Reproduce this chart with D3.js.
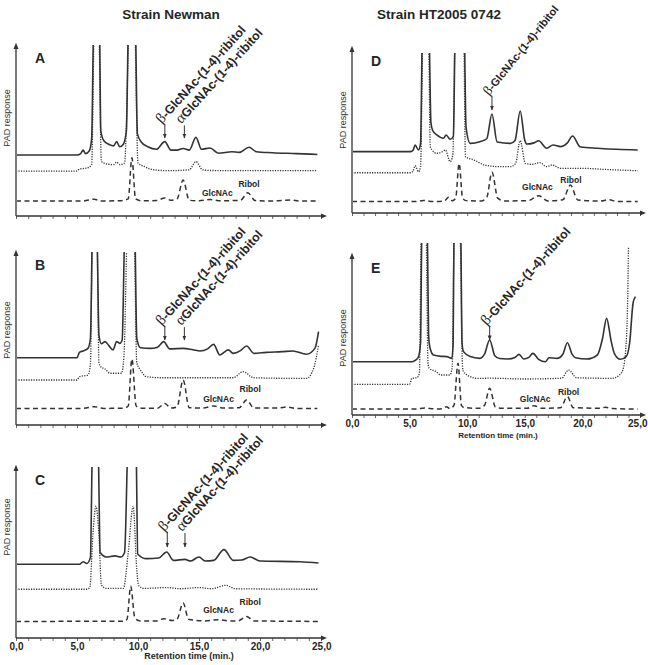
<!DOCTYPE html>
<head>
  <meta charset="utf-8">
  <script src="https://d3js.org/d3.v7.min.js"></script>
  <style>
    body { margin: 0; background: #fff; }
    text { font-family: Arial, "Liberation Sans", sans-serif; fill: #262626; }
  </style>
</head>

<body>
  <div id="chart"></div>
</body>

<script>

// retention time (min.) tick values
var majorTicks = [0, 5, 10, 15, 20, 25];
var minorTicks = [0,1,2,3,4,5,6,7,8,9,10,11,12,13,14,15,16,17,18,19,20,21,22,23,24,25];

// PAD response, relative units (0 = x axis, 100 = top of y axis), [time, response]
// Strain Newman, panel A
var aSolid = [[0,35.7],[5.0,35.7],[5.3,36.5],[5.5,38.5],[5.7,36.5],[6.0,38],[6.2,45],[6.35,110],[6.6,160],[6.85,110],[6.95,50],[7.2,44],[7.6,42],[8.0,41],[8.25,43.5],[8.5,40.5],[8.8,42],[9.05,50],[9.2,110],[9.5,160],[9.8,110],[9.95,48],[10.3,43],[10.8,40.5],[11.5,39],[12.2,43.5],[12.7,38.5],[13.2,38.5],[13.7,39.5],[14.2,38.5],[14.75,46],[15.2,39],[15.9,39.8],[16.6,36.7],[17.7,37.6],[18.3,37.2],[19.1,40.2],[19.7,37.6],[21,37],[23,36.5],[24.7,36]];
var aDotted = [[0,26.3],[5.0,26.3],[5.2,27.5],[5.8,28],[6.2,30],[6.4,110],[6.6,150],[6.8,110],[7.0,32],[7.4,30.5],[8.0,30],[8.25,31.5],[8.5,30],[8.9,31],[9.25,110],[9.5,150],[9.75,110],[10.0,31],[10.5,29],[11.3,27],[12.5,26.5],[14.2,27],[14.75,31.8],[15.3,27],[16,26.6],[24.7,26.5]];
var aDashed = [[0,8.8],[5.5,8.8],[6.4,9.8],[7.0,8.8],[8.5,8.9],[9.2,10],[9.5,34],[9.8,10],[10.3,8.9],[11.5,9],[12.2,10.5],[12.7,9.2],[13.2,10],[13.7,21],[14.2,9.2],[15,8.9],[15.9,9.6],[16.8,8.9],[18.4,9.2],[19.0,13.6],[19.6,9],[21,8.8],[22.5,9.3],[23.3,8.8],[24.7,8.8]];

// Strain Newman, panel B
var bSolid = [[0,38.9],[5.0,38.9],[5.2,42],[5.5,42.8],[5.9,44.3],[6.1,50],[6.25,110],[6.45,160],[6.65,110],[6.8,52],[7.0,47],[7.3,48.2],[7.6,46],[7.95,43.4],[8.25,48.2],[8.5,47.2],[8.7,49],[8.9,110],[9.35,160],[9.75,110],[9.9,50],[10.2,44.7],[11.0,44.3],[11.6,45],[12.1,48.2],[12.6,44],[13.7,44.3],[14.5,43.5],[15.1,42.8],[15.7,44],[16.2,46.6],[16.7,40.5],[17.4,43.4],[17.8,41.4],[18.4,43],[18.9,45.7],[19.5,41.4],[20.5,42],[21.8,42.4],[22.7,42.8],[23.8,40.9],[24.5,44.3],[24.8,54]];
var bDotted = [[0,26],[5.0,26],[5.2,27.9],[5.9,28.9],[6.1,35],[6.25,110],[6.45,150],[6.65,110],[6.8,36],[6.95,33.7],[7.3,32.4],[7.7,29.9],[8.65,29.9],[8.85,40],[9.1,110],[9.4,150],[9.7,110],[9.9,36],[10.2,31.8],[10.7,27.9],[12,27.3],[17.8,27.3],[18.6,30.8],[19.5,27.3],[23.8,26.9],[24.4,32.8],[24.8,46.2]];
var bDashed = [[0,9.6],[5.5,9.6],[6.4,10.6],[7.2,9.6],[8.8,9.7],[9.2,11],[9.5,38.2],[9.85,11],[10.3,9.7],[11.6,9.7],[12.2,12.5],[12.7,9.8],[13.2,10.5],[13.7,26],[14.2,10],[15.3,9.8],[16.2,11],[17,9.8],[18.3,10],[18.9,14.5],[19.5,9.8],[21.5,9.8],[22.2,10.4],[23,9.6],[24.7,9.6]];

// Strain Newman, panel C
var cSolid = [[0,43.1],[5.2,43.1],[5.5,44.6],[5.8,43.6],[6.1,47],[6.25,110],[6.5,160],[6.75,110],[6.9,50],[7.4,47.4],[8.1,48],[8.6,47.4],[8.9,50],[9.15,110],[9.5,160],[9.85,110],[9.98,49],[10.7,46.4],[11.7,46.8],[12.35,50.3],[12.9,45.4],[13.85,46],[14.3,45],[15.0,47.4],[15.5,45],[16.2,45.4],[17.05,51.7],[17.8,45.4],[18.5,45.6],[19.2,47.4],[20.0,45],[23.3,44.6],[24.8,43.9]];
var cDotted = [[0,28.5],[5.8,28.5],[6.05,29.5],[6.3,60],[6.55,77],[6.8,60],[7.0,31],[7.4,29],[8.8,29],[9.2,50],[9.6,77],[9.9,40],[10.05,30.8],[10.5,29],[12.35,29.5],[13.5,28.8],[15.0,29.5],[16.0,28.8],[17.2,30.8],[18.0,28.8],[24.8,28.5]];
var cDashed = [[0,9.7],[8.8,9.8],[9.1,11],[9.4,30.2],[9.75,11.5],[10.2,10],[11.5,10],[12.1,11.3],[12.8,10.2],[13.2,11],[13.7,20.5],[14.15,11],[15.5,10],[16.5,10.7],[17.5,10],[18.2,10],[18.9,12.6],[19.5,10],[24.8,9.7]];

// Strain HT2005 0742, panel D
var dSolid = [[0,37.2],[5.1,37.2],[5.3,38],[5.48,41.2],[5.77,38.2],[5.95,42],[6.1,110],[6.4,160],[6.7,110],[6.85,55],[7.0,50],[7.36,47.3],[7.94,45.3],[8.17,47.3],[8.52,44.7],[8.8,46.3],[8.95,110],[9.35,160],[9.75,110],[9.9,52],[10.26,42.2],[11.1,43.2],[11.7,45],[12.15,60],[12.6,43],[13.75,42.2],[14.15,44],[14.6,61.8],[15.0,44],[15.2,41.8],[15.8,42.5],[16.2,43.8],[16.9,39.2],[17.45,41.2],[18.1,40.2],[18.7,42.5],[19.15,46.7],[19.8,40.2],[21.3,39.2],[23,38.6],[24.8,38.2]];
var dDotted = [[0,24.4],[5.1,24.4],[5.3,25.5],[5.48,28.7],[5.77,25],[5.95,28],[6.15,110],[6.4,150],[6.65,110],[6.8,40],[6.95,38.2],[7.36,36.2],[7.8,37],[8.1,38.2],[8.52,31.1],[8.75,35],[8.95,110],[9.3,150],[9.7,110],[9.85,34.1],[10.6,32.1],[11.5,29.1],[12.7,28.1],[13.75,28.1],[14.2,30],[14.6,43.8],[15.05,30.1],[15.6,29.5],[16.3,30.5],[16.9,28.1],[17.36,29.1],[18.1,27.1],[19.8,27.1],[22,26.4],[24.8,25.6]];
var dDashed = [[0,6.9],[5.5,6.9],[6.2,7.6],[7.0,6.9],[8.0,7.2],[8.38,9.5],[8.7,7.5],[9.0,9],[9.3,30.1],[9.6,9],[9.9,7.5],[11.2,7.3],[11.7,9.5],[12.15,24.7],[12.65,9],[13.2,7.3],[15.3,7.5],[16.2,10.5],[17,7.3],[18.3,8],[18.96,17],[19.6,7.9],[21.5,7.2],[22.3,8],[23,7],[24.8,6.9]];

// Strain HT2005 0742, panel E
var eSolid = [[0,33.3],[5.2,33.3],[5.45,34],[5.75,36],[5.95,45],[6.05,110],[6.3,160],[6.55,110],[6.65,50],[6.78,41.7],[7.07,37.5],[7.6,36.8],[8.23,36.5],[8.67,35.4],[8.78,45],[8.85,110],[9.15,160],[9.45,110],[9.55,45],[9.68,39.6],[10.26,36.5],[11.1,35.4],[11.5,38],[11.95,46.9],[12.4,37],[12.8,35.3],[13.5,35],[14.15,36],[14.5,37.9],[14.9,35],[15.35,36],[15.7,38.5],[16.2,34.8],[16.8,33.3],[17.1,35.8],[17.8,35.4],[18.3,38],[18.7,45.2],[19.1,38],[19.4,35.8],[20.4,35],[21.3,37.5],[21.75,48],[22.1,60.4],[22.5,46],[22.8,38],[23.3,34.8],[23.8,36.5],[24.1,45],[24.4,70],[24.6,74]];
var eDotted = [[0,19.2],[5.0,19.2],[5.19,22.9],[5.62,23.3],[5.85,26],[6.0,110],[6.25,150],[6.45,110],[6.6,32],[6.7,29.2],[7.3,27.1],[7.7,25],[8.5,25],[8.7,30],[8.85,110],[9.1,150],[9.4,110],[9.6,30],[9.68,27.1],[10.26,24],[10.8,22.9],[12,23],[15,22.5],[18.2,23],[18.8,28.1],[19.5,23.3],[22.6,22.9],[23.2,25],[23.5,28],[23.8,45],[23.95,80],[24.0,105]];
var eDashed = [[0,3.75],[5.5,3.75],[6.3,4.4],[7.2,3.8],[7.9,4],[8.2,5.2],[8.5,4],[8.85,6],[9.2,32.3],[9.5,6],[9.75,4.6],[11.0,4.2],[11.5,6],[11.95,16.7],[12.45,5],[13,4.2],[15.2,4.2],[15.8,5.8],[16.5,4.2],[18.1,4.5],[18.7,11.5],[19.2,4.6],[21.5,4.2],[22.0,4.8],[22.6,4],[24.8,3.75]];

// labels
var titles = ["Strain Newman", "Strain HT2005 0742"];
var betaLabel = ["\u03b2", "-GlcNAc-(1-4)-ribitol"];
var alphaLabel = ["\u03b1", "GlcNAc-(1-4)-ribitol"];

var W = 648, H = 665;

var svg = d3.select("#chart")
  .append("svg")
    .attr("width", W)
    .attr("height", H);

var defs = svg.append("defs");
defs.append("marker")
    .attr("id", "axisArrow")
    .attr("viewBox", "0 0 10 10")
    .attr("refX", 5).attr("refY", 5)
    .attr("markerWidth", 5).attr("markerHeight", 5)
    .attr("orient", "auto")
  .append("path")
    .attr("d", "M0,1 L10,5 L0,9 Z")
    .style("fill", "#333");
defs.append("marker")
    .attr("id", "peakArrow")
    .attr("viewBox", "0 0 10 10")
    .attr("refX", 9).attr("refY", 5)
    .attr("markerWidth", 5).attr("markerHeight", 5)
    .attr("markerUnits", "userSpaceOnUse")
    .attr("orient", "auto")
  .append("path")
    .attr("d", "M0,1 L10,5 L0,9 Z")
    .style("fill", "#333");

// titles
svg.append("text").attr("x", 171).attr("y", 19).attr("text-anchor", "middle")
  .style("font-size", "13.5px").style("font-weight", "bold").text(titles[0]);
svg.append("text").attr("x", 439).attr("y", 19).attr("text-anchor", "middle")
  .style("font-size", "13.5px").style("font-weight", "bold").text(titles[1]);

var panels = [
  {id: "A", solid: aSolid, dotted: aDotted, dashed: aDashed, x0: 16, x1: 321, base: 216, top: 45, clip: 100, labels: false,
   padY: 118, arrows: [[12.2, 53, 45.6, betaLabel], [13.8, 53, 45.6, alphaLabel]], glc: [16.5, 11.7], rib: [19.1, 17]},
  {id: "B", solid: bSolid, dotted: bDotted, dashed: bDashed, x0: 16, x1: 321, base: 425, top: 252, clip: 100, labels: false,
   padY: 330, arrows: [[12.2, 56.6, 49.1, betaLabel], [13.8, 56.6, 49.1, alphaLabel]], glc: [16.6, 13.3], rib: [19.2, 19.1]},
  {id: "C", solid: cSolid, dotted: cDotted, dashed: cDashed, x0: 16, x1: 321, base: 638, top: 467, clip: 100, labels: true,
   padY: 527, arrows: [[12.4, 61.4, 53.2, betaLabel], [13.85, 61.4, 53.2, alphaLabel]], glc: [16.6, 14.6], rib: [19.2, 19.3],
   tickFont: 10, titleFont: 9, titleX: 189, titleY: 659},
  {id: "D", solid: dSolid, dotted: dDotted, dashed: dDashed, x0: 352, x1: 640, base: 213, top: 48, clip: 97, labels: false,
   padY: 120, arrows: [[12.15, 70.3, 62.4, betaLabel]], glc: [16.1, 13.9], rib: [19.0, 18.2], noteSize: 11, noteAngle: -51},
  {id: "E", solid: eSolid, dotted: eDotted, dashed: eDashed, x0: 352, x1: 640, base: 415, top: 255, clip: 107.5, labels: true,
   padY: 338, arrows: [[11.95, 55, 46.9, betaLabel]], glc: [15.9, 8.1], rib: [18.8, 12.5],
   tickFont: 10, titleFont: 8, titleX: 498, titleY: 438}
];

panels.forEach(function(p) {

  var x = d3.scaleLinear().domain([0, 25]).range([p.x0, p.x1]);
  var y = d3.scaleLinear().domain([0, 100]).range([p.base, p.top]);

  var g = svg.append("g");

  // clip the off-scale peaks
  defs.append("clipPath").attr("id", "clip" + p.id)
    .append("rect")
      .attr("x", p.x0 + 1).attr("y", y(p.clip))
      .attr("width", p.x1 - p.x0 + 6).attr("height", p.base - y(p.clip));

  var line = d3.line()
    .x(function(d) { return x(d[0]); })
    .y(function(d) { return y(d[1]); })
    .curve(d3.curveMonotoneX);

  var traces = g.append("g").attr("clip-path", "url(#clip" + p.id + ")");
  traces.append("path").datum(p.dashed)
    .attr("d", line).style("fill", "none").style("stroke", "#333")
    .style("stroke-width", 1.5).style("stroke-dasharray", "5,3.5");
  traces.append("path").datum(p.dotted)
    .attr("d", line).style("fill", "none").style("stroke", "#333")
    .style("stroke-width", 1.3).style("stroke-dasharray", "1.2,1.3");
  traces.append("path").datum(p.solid)
    .attr("d", line).style("fill", "none").style("stroke", "#333")
    .style("stroke-width", 1.6);

  // minor ticks on the time axis
  var xAxis = g.append("g")
    .attr("transform", "translate(0," + p.base + ")")
    .call(d3.axisBottom(x).tickValues(minorTicks).tickSize(3).tickFormat(""));
  xAxis.select(".domain").remove();
  xAxis.selectAll(".tick line").style("stroke", "#444").style("stroke-width", 0.8);

  if (p.labels) {
    var lab = g.append("g")
      .attr("transform", "translate(0," + p.base + ")")
      .call(d3.axisBottom(x).tickValues(majorTicks).tickSize(0).tickPadding(5)
        .tickFormat(function(d) { return d.toFixed(1).replace(".", ","); }));
    lab.select(".domain").remove();
    lab.selectAll("text")
      .style("font-family", "Arial, sans-serif")
      .style("font-size", p.tickFont + "px")
      .style("font-weight", "bold")
      .style("fill", "#262626");
    // keep the last label inside the page
    lab.selectAll("text").filter(function(d) { return d === 25; })
      .attr("text-anchor", "end").attr("dx", Math.min(10, W - 1 - x(25)));
    g.append("text")
      .attr("x", p.titleX).attr("y", p.titleY)
      .attr("text-anchor", "middle")
      .style("font-size", p.titleFont + "px").style("font-weight", "bold")
      .text("Retention time (min.)");
  }

  // axis lines with arrow heads
  g.append("line")
    .attr("x1", p.x0).attr("y1", p.base).attr("x2", p.x1 + 3).attr("y2", p.base)
    .style("stroke", "#333").style("stroke-width", 1.3)
    .attr("marker-end", "url(#axisArrow)");
  g.append("line")
    .attr("x1", p.x0).attr("y1", p.base).attr("x2", p.x0).attr("y2", p.top + 1)
    .style("stroke", "#333").style("stroke-width", 1.3)
    .attr("marker-end", "url(#axisArrow)");

  // y axis title
  g.append("text")
    .attr("transform", "translate(" + (p.x0 - 6) + "," + p.padY + ") rotate(-90)")
    .attr("text-anchor", "middle")
    .style("font-size", "9px")
    .style("fill", "#333")
    .text("PAD response");

  // panel letter
  g.append("text")
    .attr("x", p.x0 + 19).attr("y", p.top + 18)
    .style("font-size", "14px").style("font-weight", "bold")
    .text(p.id);

  // peak annotations
  var noteSize = p.noteSize || 12.5;
  var noteAngle = p.noteAngle || -48;
  p.arrows.forEach(function(a) {
    g.append("line")
      .attr("x1", x(a[0])).attr("y1", y(a[1]))
      .attr("x2", x(a[0])).attr("y2", y(a[2]))
      .style("stroke", "#333").style("stroke-width", 1)
      .attr("marker-end", "url(#peakArrow)");
    var t = g.append("text")
      .attr("transform", "translate(" + (x(a[0]) - 3) + "," + (y(a[1]) - 1) + ") rotate(" + noteAngle + ")");
    t.append("tspan").text(a[3][0])
      .style("font-family", "'Liberation Serif', 'DejaVu Serif', serif")
      .style("font-size", (noteSize + 2.5) + "px");
    t.append("tspan").text(a[3][1])
      .style("font-size", noteSize + "px").style("font-weight", "bold");
  });

  g.append("text")
    .attr("x", x(p.glc[0])).attr("y", y(p.glc[1]))
    .attr("text-anchor", "middle")
    .style("font-size", "8.5px").style("font-weight", "bold")
    .text("GlcNAc");
  g.append("text")
    .attr("x", x(p.rib[0])).attr("y", y(p.rib[1]))
    .attr("text-anchor", "middle")
    .style("font-size", "8.5px").style("font-weight", "bold")
    .text("Ribol");
});

</script>
